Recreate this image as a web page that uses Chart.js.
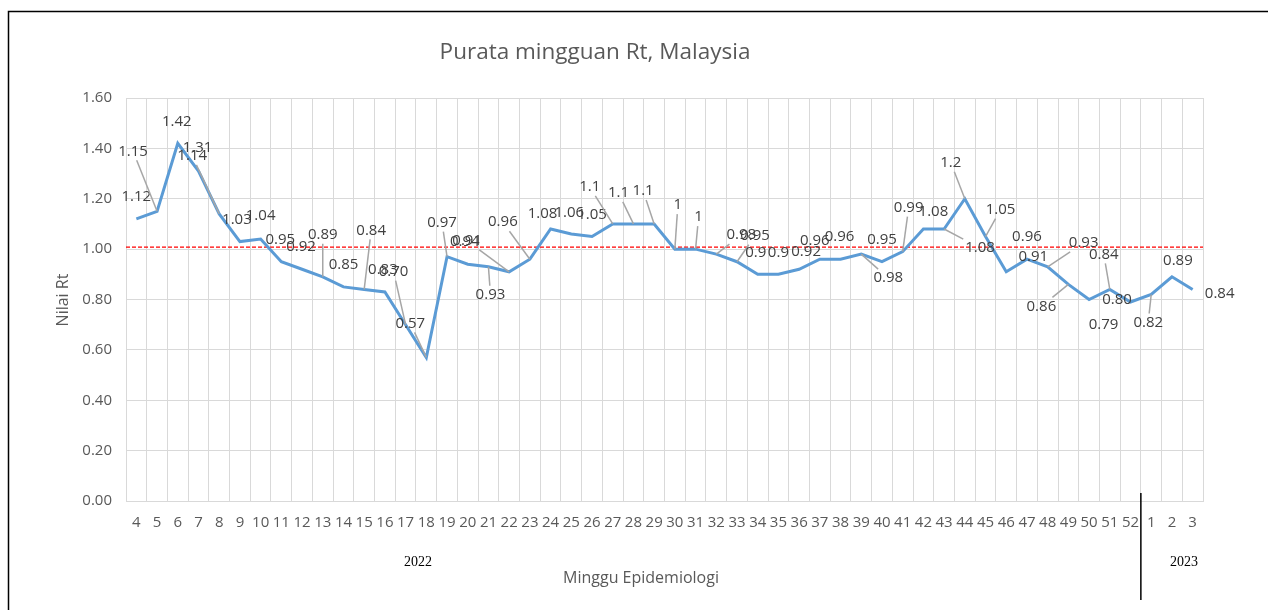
<!DOCTYPE html>
<html>
<head>
<meta charset="utf-8">
<script src="https://cdn.jsdelivr.net/npm/chart.js@4"></script>
<style>
  html, body { margin: 0; padding: 0; background: #fff; }
  #wrap { position: relative; width: 1268px; height: 610px; }
</style>
</head>
<body>
<div id="wrap"><canvas id="rtChart" width="1268" height="610"></canvas></div>
<script>
// Weekly Rt data
const weeks = ["4", "5", "6", "7", "8", "9", "10", "11", "12", "13", "14", "15", "16", "17", "18",
    "19", "20", "21", "22", "23", "24", "25", "26", "27", "28", "29", "30", "31", "32", "33",
    "34", "35", "36", "37", "38", "39", "40", "41", "42", "43", "44", "45", "46", "47", "48",
    "49", "50", "51", "52", "1", "2", "3"];
const rtValues = [1.12, 1.15, 1.42, 1.31, 1.14, 1.03, 1.04, 0.95, 0.92, 0.89, 0.85, 0.84, 0.83, 0.70, 0.57,
    0.97, 0.94, 0.93, 0.91, 0.96, 1.08, 1.06, 1.05, 1.1, 1.1, 1.1, 1, 1, 0.98, 0.95,
    0.9, 0.9, 0.92, 0.96, 0.96, 0.98, 0.95, 0.99, 1.08, 1.08, 1.2, 1.05, 0.91, 0.96, 0.93,
    0.86, 0.80, 0.84, 0.79, 0.82, 0.89, 0.84];
const rtLabels = ["1.12", "1.15", "1.42", "1.31", "1.14", "1.03", "1.04", "0.95", "0.92", "0.89", "0.85", "0.84", "0.83", "0.70", "0.57",
    "0.97", "0.94", "0.93", "0.91", "0.96", "1.08", "1.06", "1.05", "1.1", "1.1", "1.1", "1", "1", "0.98", "0.95",
    "0.9", "0.9", "0.92", "0.96", "0.96", "0.98", "0.95", "0.99", "1.08", "1.08", "1.2", "1.05", "0.91", "0.96", "0.93",
    "0.86", "0.80", "0.84", "0.79", "0.82", "0.89", "0.84"];
const yTicks = [0, 0.2, 0.4, 0.6, 0.8, 1.0, 1.2, 1.4, 1.6];
const threshold = 1.01;
const yearLabels = ["2022", "2023"];

// where each data label sits relative to its point: [dx, dy, leader line?]
const labelOffsets = [
    [0, -22], [-24, -60, 1], [-1, -22], [-1, -23], [-27, -58, 1], [-3, -22], [0, -23], [-1, -22],
    [-1, -23], [0, -42, 1], [0, -22], [7, -59, 1], [-2, -22], [-12, -53, 1], [-16, -34, 1],
    [-5, -34, 1], [-3, -23], [2, 28, 1], [-42, -31, 1], [-27, -37, 1], [-8, -15], [-2, -21],
    [0, -22], [-23, -37, 1], [-15, -31, 1], [-11, -33, 1], [3, -44, 1], [3, -32, 1], [25, -19, 1],
    [18, -26, 1], [-2, -22], [0, -22], [7, -18], [-5, -18], [-1, -22], [27, 24, 1], [0, -22],
    [6, -44, 1], [10, -17], [36, 19, 1], [-14, -36, 1], [15, -27, 1], [27, -15], [0, -22],
    [36, -24, 1], [-27, 22, 1], [28, 0], [-6, -35, 1], [-27, 23], [-3, 28, 1], [6, -16], [27, 4]
];

const FONT = "'Open Sans', sans-serif";
const GREY = "#595959";

// draws the data labels with leader lines
const labelPlugin = {
    id: "rtLabels",
    afterDatasetsDraw(chart) {
        const ctx = chart.ctx;
        const meta = chart.getDatasetMeta(0);
        ctx.save();
        ctx.font = "15px " + FONT;
        ctx.textAlign = "center";
        ctx.textBaseline = "middle";
        meta.data.forEach((pt, i) => {
            const [dx, dy, lead] = labelOffsets[i];
            const lx = pt.x + dx;
            const ly = pt.y + dy;
            const txt = rtLabels[i];
            if (lead) {
                const hw = ctx.measureText(txt).width / 2 + 2;
                const hh = 9;
                const vx = pt.x - lx, vy = pt.y - ly;
                const t = Math.min(Math.abs(hw / (vx || 1e-6)), Math.abs(hh / (vy || 1e-6)));
                ctx.strokeStyle = "#a6a6a6";
                ctx.lineWidth = 1.5;
                ctx.beginPath();
                ctx.moveTo(lx + vx * t, ly + vy * t);
                ctx.lineTo(pt.x, pt.y);
                ctx.stroke();
            }
            ctx.fillStyle = "#404040";
            ctx.fillText(txt, lx, ly);
        });
        ctx.restore();
    }
};

// threshold line, titles, year markers and frame
const decorPlugin = {
    id: "decor",
    beforeDatasetsDraw(chart) {
        const ctx = chart.ctx;
        const area = chart.chartArea;
        const y = chart.scales.y.getPixelForValue(threshold);
        ctx.save();
        ctx.strokeStyle = "#ff0000";
        ctx.lineWidth = 1.2;
        ctx.setLineDash([4, 2]);
        ctx.beginPath();
        ctx.moveTo(area.left, y + 0.5);
        ctx.lineTo(area.right, y + 0.5);
        ctx.stroke();
        ctx.restore();
    },
    afterDraw(chart) {
        const ctx = chart.ctx;
        const area = chart.chartArea;
        ctx.save();
        // frame
        ctx.strokeStyle = "#000";
        ctx.lineWidth = 1.5;
        ctx.beginPath();
        ctx.moveTo(8.5, 620);
        ctx.lineTo(8.5, 11.5);
        ctx.lineTo(1268, 11.5);
        ctx.stroke();

        // title
        ctx.fillStyle = GREY;
        ctx.textAlign = "center";
        ctx.textBaseline = "middle";
        ctx.font = "22.5px " + FONT;
        ctx.fillText("Purata mingguan Rt, Malaysia", 595, 53);

        // axis titles
        ctx.font = "16px " + FONT;
        ctx.fillText("Minggu Epidemiologi", 641, 578);
        ctx.save();
        ctx.translate(63, 300);
        ctx.rotate(-Math.PI / 2);
        ctx.fillText("Nilai Rt", 0, 0);
        ctx.restore();

        // year markers
        const xs = chart.scales.x;
        const step = xs.getPixelForValue(1) - xs.getPixelForValue(0);
        const split = xs.getPixelForValue(weeks.length - 3) - step / 2;
        ctx.fillStyle = "#000";
        ctx.font = "14px 'Liberation Serif', serif";
        ctx.fillText(yearLabels[0], 418, 562);
        ctx.fillText(yearLabels[1], 1184, 562);
        ctx.strokeStyle = "#000";
        ctx.lineWidth = 1.5;
        ctx.beginPath();
        ctx.moveTo(split, area.bottom - 8);
        ctx.lineTo(split, 600);
        ctx.stroke();
        ctx.restore();
    }
};

const ctx = document.getElementById("rtChart").getContext("2d");
new Chart(ctx, {
    type: "line",
    data: {
        labels: weeks,
        datasets: [
            {
                label: "Rt",
                data: rtValues,
                borderColor: "#5b9bd5",
                borderWidth: 3,
                pointRadius: 0,
                tension: 0,
                fill: false,
            },
        ],
    },
    options: {
        responsive: false,
        animation: false,
        devicePixelRatio: 1,
        layout: { padding: { left: 0, top: 98, right: 65, bottom: 0 } },
        plugins: {
            legend: { display: false },
            tooltip: { enabled: false },
        },
        scales: {
            x: {
                offset: true,
                grid: { offset: true, color: "#d9d9d9", lineWidth: 1, drawTicks: false },
                border: { color: "#d9d9d9", width: 1 },
                ticks: {
                    autoSkip: false,
                    maxRotation: 0,
                    padding: 13,
                    color: GREY,
                    font: { family: FONT, size: 15 },
                },
                afterFit(scale) { scale.height = 109; },
            },
            y: {
                min: 0,
                max: 1.6,
                afterBuildTicks(scale) { scale.ticks = yTicks.map(v => ({ value: v })); },
                grid: { color: "#d9d9d9", lineWidth: 1, drawTicks: false },
                border: { display: false },
                ticks: {
                    padding: 14,
                    color: GREY,
                    font: { family: FONT, size: 15 },
                    callback: v => v.toFixed(2),
                },
                afterFit(scale) { scale.width = 126; },
            },
        },
    },
    plugins: [decorPlugin, labelPlugin],
});
</script>
</body>
</html>
